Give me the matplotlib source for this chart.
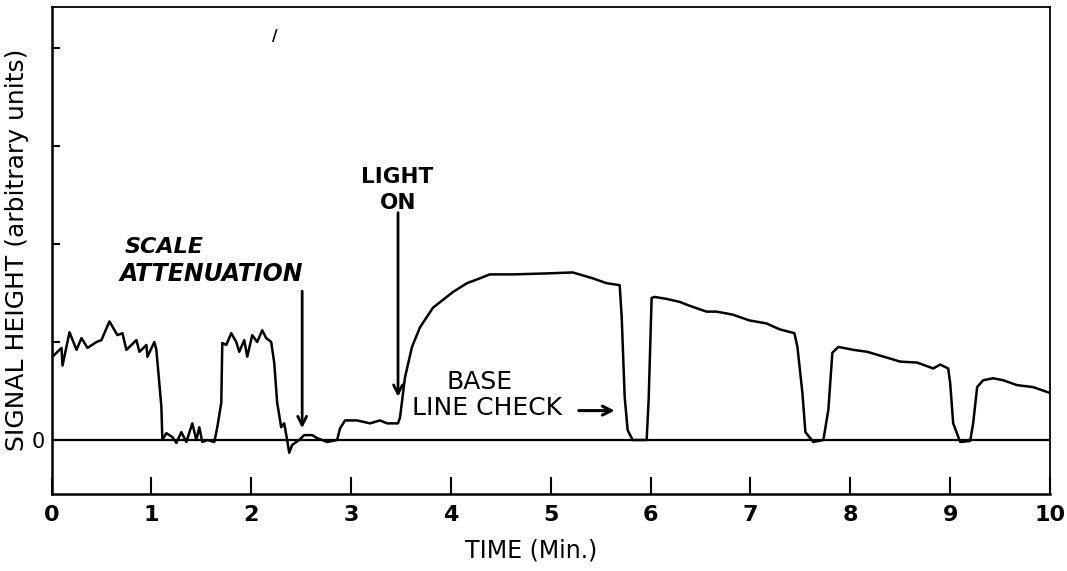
import matplotlib
matplotlib.use("Agg")
import matplotlib.pyplot as plt

# ---- data ----
time_min = [0.00, 0.01, 0.10, 0.11, 0.18, 0.25, 0.30, 0.36, 0.45, 0.50, 0.58, 0.66, 0.71, 0.75,
            0.85, 0.88, 0.95, 0.96, 1.03, 1.05, 1.10, 1.11, 1.15, 1.21, 1.25, 1.30, 1.35, 1.41,
            1.45, 1.48, 1.51, 1.56, 1.63, 1.66, 1.70, 1.71, 1.75, 1.80, 1.85, 1.88, 1.93, 1.96,
            2.01, 2.06, 2.11, 2.15, 2.20, 2.23, 2.26, 2.30, 2.33, 2.36, 2.38, 2.41, 2.48, 2.53,
            2.61, 2.66, 2.76, 2.86, 2.89, 2.94, 3.06, 3.19, 3.29, 3.36, 3.47, 3.49, 3.54, 3.61,
            3.69, 3.82, 3.92, 4.02, 4.16, 4.29, 4.39, 4.62, 4.96, 5.22, 5.42, 5.56, 5.69, 5.71,
            5.74, 5.77, 5.82, 5.96, 5.98, 6.01, 6.04, 6.16, 6.29, 6.39, 6.56, 6.66, 6.82, 6.99,
            7.16, 7.29, 7.44, 7.47, 7.52, 7.55, 7.63, 7.73, 7.78, 7.82, 7.88, 8.03, 8.17, 8.27,
            8.50, 8.67, 8.83, 8.90, 8.98, 9.00, 9.03, 9.10, 9.20, 9.23, 9.27, 9.33, 9.43, 9.53,
            9.67, 9.83, 10.00]
signal = [0.97, 0.85, 0.94, 0.76, 1.10, 0.92, 1.04, 0.94, 1.00, 1.02, 1.21, 1.07, 1.09, 0.92,
          1.02, 0.90, 0.97, 0.85, 1.00, 0.92, 0.34, 0.00, 0.07, 0.03, -0.03, 0.08, -0.02, 0.17,
          0.00, 0.13, -0.02, 0.00, -0.02, 0.13, 0.38, 0.99, 0.97, 1.09, 1.00, 0.90, 1.02, 0.85,
          1.07, 1.00, 1.12, 1.04, 1.00, 0.79, 0.38, 0.13, 0.17, 0.00, -0.13, -0.05, 0.00, 0.05,
          0.05, 0.02, -0.02, 0.00, 0.12, 0.20, 0.20, 0.17, 0.20, 0.17, 0.17, 0.23, 0.64, 0.95,
          1.15, 1.35, 1.43, 1.51, 1.60, 1.65, 1.69, 1.69, 1.70, 1.71, 1.65, 1.60, 1.58, 1.26,
          0.44, 0.10, 0.00, 0.00, 0.41, 1.45, 1.46, 1.44, 1.41, 1.37, 1.31, 1.31, 1.28, 1.22,
          1.19, 1.13, 1.09, 0.95, 0.48, 0.08, -0.02, 0.00, 0.31, 0.89, 0.95, 0.92, 0.90, 0.87,
          0.80, 0.79, 0.73, 0.77, 0.73, 0.58, 0.17, -0.02, -0.01, 0.17, 0.54, 0.61, 0.63, 0.61,
          0.56, 0.54, 0.48]

x_ticks = [0, 1, 2, 3, 4, 5, 6, 7, 8, 9, 10]
x_tick_labels = ["0", "1", "2", "3", "4", "5", "6", "7", "8", "9", "10"]
y_ticks = [0, 1, 2, 3, 4]
y_tick_labels = ["0", "", "", "", ""]

# ---- figure ----
fig = plt.figure(figsize=(10.67, 5.71), dpi=100)
ax = fig.add_axes([0.0483, 0.135, 0.9358, 0.853])

ax.plot(time_min, signal, color="black", lw=1.8, solid_joinstyle="round")
ax.axhline(0, color="black", lw=1.6)

ax.set_xlim(0, 10)
ax.set_ylim(-0.55, 4.42)

ax.set_xticks(x_ticks)
ax.set_xticklabels(x_tick_labels, fontsize=16, fontweight="bold")
ax.set_yticks(y_ticks)
ax.set_yticklabels(y_tick_labels, fontsize=15)
ax.tick_params(axis="x", direction="in", length=12, width=1.5, pad=8)
ax.tick_params(axis="y", direction="in", length=6, width=1.5, pad=5)

for side in ["left", "bottom"]:
    ax.spines[side].set_linewidth(1.8)
for side in ["top", "right"]:
    ax.spines[side].set_linewidth(1.3)

fig.text(0.498, 0.036, "TIME (Min.)", ha="center", va="center", fontsize=17)
fig.text(0.0155, 0.563, "SIGNAL HEIGHT (arbitrary units)", rotation=90,
         ha="center", va="center", fontsize=18)

# ---- annotations ----
bold = dict(fontweight="bold", color="black")
ax.text(0.73, 1.97, "SCALE", ha="left", va="center", style="italic", fontsize=16, **bold)
ax.text(0.68, 1.69, "ATTENUATION", ha="left", va="center", style="italic", fontsize=17, **bold)
ax.annotate("", xy=(2.51, 0.12), xytext=(2.51, 1.52),
            arrowprops=dict(arrowstyle="->", lw=2, color="black", mutation_scale=16,
                            shrinkA=0, shrinkB=0))

ax.text(3.46, 2.68, "LIGHT", ha="center", va="center", fontsize=15.5, **bold)
ax.text(3.47, 2.42, "ON", ha="center", va="center", fontsize=15.5, **bold)
ax.annotate("", xy=(3.47, 0.44), xytext=(3.47, 2.32),
            arrowprops=dict(arrowstyle="->", lw=2, color="black", mutation_scale=16,
                            shrinkA=0, shrinkB=0))

ax.text(3.96, 0.59, "BASE", ha="left", va="center", fontsize=18, color="black")
ax.text(3.61, 0.33, "LINE CHECK", ha="left", va="center", fontsize=18, color="black")
ax.annotate("", xy=(5.64, 0.30), xytext=(5.28, 0.30),
            arrowprops=dict(arrowstyle="->", lw=2.2, color="black", mutation_scale=16,
                            shrinkA=0, shrinkB=0))

ax.text(2.24, 4.12, "/", ha="center", va="center", fontsize=11, fontweight="bold")

fig.savefig("out.png", dpi=100)
